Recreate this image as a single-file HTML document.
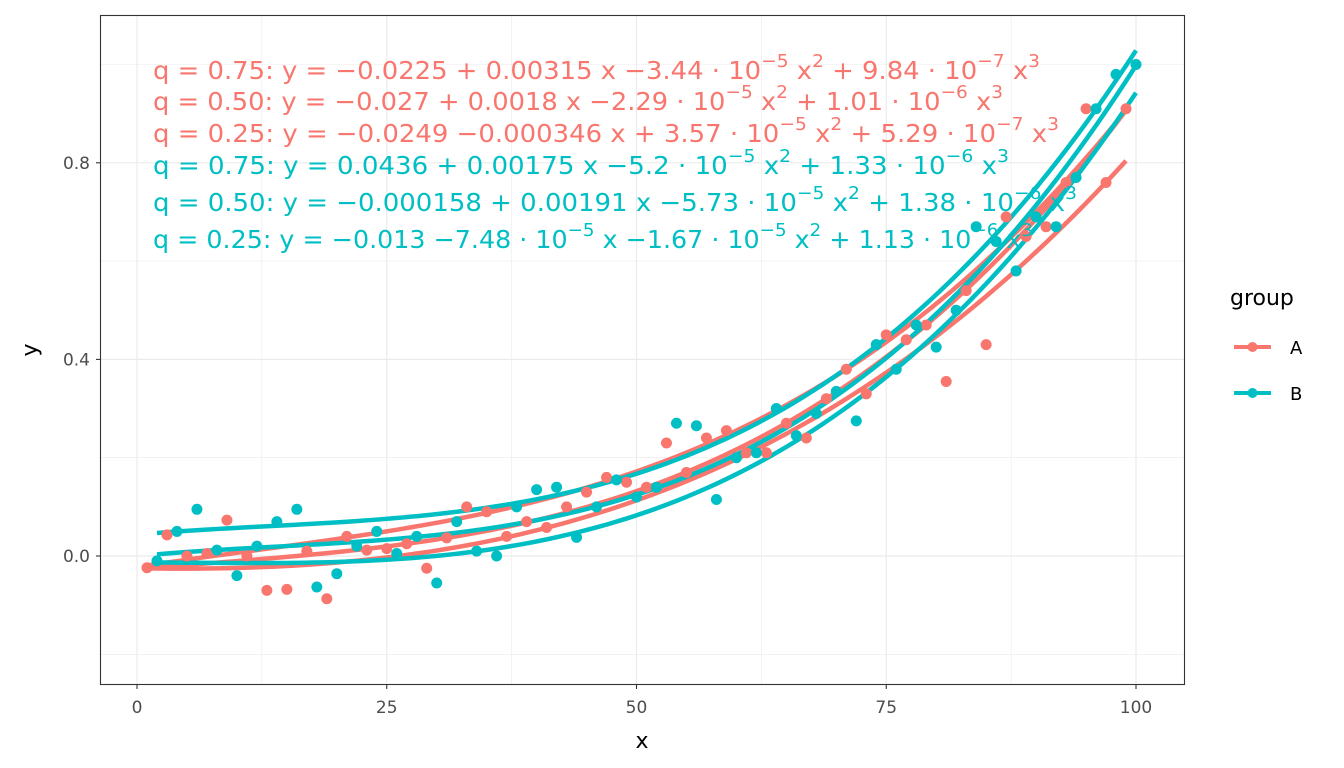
<!DOCTYPE html>
<html><head><meta charset="utf-8"><style>
html,body{margin:0;padding:0;background:#fff;}
svg{display:block;font-family:"DejaVu Sans","Liberation Sans",sans-serif;}
</style></head><body>
<svg id="chart" width="1344" height="768" viewBox="0 0 1344 768" xmlns="http://www.w3.org/2000/svg">
<rect x="0" y="0" width="1344" height="768" fill="#fff"/>
<g id="grid"></g>
<g id="curves"></g>
<g id="points"></g>
<g id="eqs"></g>
<rect x="100.5" y="15.5" width="1084" height="669" fill="none" stroke="#333" stroke-width="1.1"/>
<g id="axes"></g>
<text x="642" y="748" font-size="22" text-anchor="middle" fill="#000">x</text>
<text transform="translate(37,350) rotate(-90)" font-size="22" text-anchor="middle" fill="#000">y</text>
<g>
<text x="1230" y="305" font-size="22" fill="#000">group</text>
<g>
<line x1="1234" y1="347" x2="1271" y2="347" stroke="#F8766D" stroke-width="4"/>
<circle cx="1252.5" cy="347" r="5" fill="#F8766D"/>
<text x="1290" y="354" font-size="18" fill="#000">A</text></g>
<g>
<line x1="1234" y1="393" x2="1271" y2="393" stroke="#00BFC4" stroke-width="4"/>
<circle cx="1252.5" cy="393" r="5" fill="#00BFC4"/>
<text x="1290" y="400" font-size="18" fill="#000">B</text></g>
</g>
</svg>
<script>
const xA=[1,3,5,7,9,11,13,15,17,19,21,23,25,27,29,31,33,35,37,39,41,43,45,47,49,51,53,55,57,59,61,63,65,67,69,71,73,75,77,79,81,83,85,87,89,91,93,95,97,99];
const yA=[-0.024,0.043,0.0,0.005,0.073,0.0,-0.07,-0.068,0.01,-0.087,0.04,0.012,0.015,0.025,-0.025,0.037,0.10,0.09,0.04,0.07,0.058,0.10,0.13,0.16,0.15,0.14,0.23,0.17,0.24,0.255,0.21,0.21,0.27,0.24,0.32,0.38,0.33,0.45,0.44,0.47,0.355,0.54,0.43,0.69,0.65,0.67,0.76,0.91,0.76,0.91];
const xB=[2,4,6,8,10,12,14,16,18,20,22,24,26,28,30,32,34,36,38,40,42,44,46,48,50,52,54,56,58,60,62,64,66,68,70,72,74,76,78,80,82,84,86,88,90,92,94,96,98,100];
const yB=[-0.01,0.05,0.095,0.012,-0.04,0.02,0.07,0.095,-0.063,-0.036,0.02,0.05,0.005,0.04,-0.055,0.07,0.01,0.0,0.1,0.135,0.14,0.038,0.1,0.155,0.12,0.14,0.27,0.265,0.115,0.2,0.21,0.3,0.245,0.29,0.335,0.275,0.43,0.38,0.47,0.425,0.5,0.67,0.64,0.58,0.69,0.67,0.77,0.91,0.98,1.0];
const coefA75=[-0.0225,0.00315,-3.44e-5,9.84e-7];
const coefA50=[-0.027,0.0018,-2.29e-5,1.01e-6];
const coefA25=[-0.0249,-0.000346,3.57e-5,5.29e-7];
const coefB75=[0.0436,0.00175,-5.2e-5,1.33e-6];
const coefB50=[-0.000158,0.00191,-5.73e-5,1.38e-6];
const coefB25=[-0.013,-7.48e-5,-1.67e-5,1.13e-6];
const xTicks=[0,25,50,75,100];
const yTicks=[0.0,0.4,0.8];
const xMinor=[12.5,37.5,62.5,87.5];
const yMinor=[-0.2,0.2,0.6,1.0];
const NS="http://www.w3.org/2000/svg";
function sx(v){return 137+v*9.99;}
function sy(v){return 556-v*491.5;}
function mk(tag,attrs,parent){const e=document.createElementNS(NS,tag);for(const k in attrs)e.setAttribute(k,attrs[k]);parent.appendChild(e);return e;}
const grid=document.getElementById('grid');
xMinor.forEach(v=>{const l=mk('line',{x1:sx(v),x2:sx(v),y1:15,y2:685,stroke:'#ebebeb','stroke-width':0.6},grid);

});
yMinor.forEach(v=>{const l=mk('line',{x1:100,x2:1185,y1:sy(v),y2:sy(v),stroke:'#ebebeb','stroke-width':0.6},grid);

});
xTicks.forEach(v=>{const l=mk('line',{x1:sx(v),x2:sx(v),y1:15,y2:685,stroke:'#ebebeb','stroke-width':1.2},grid);

});
yTicks.forEach(v=>{const l=mk('line',{x1:100,x2:1185,y1:sy(v),y2:sy(v),stroke:'#ebebeb','stroke-width':1.2},grid);

});
const axes=document.getElementById('axes');
xTicks.forEach(v=>{mk('line',{x1:sx(v),x2:sx(v),y1:685,y2:689,stroke:'#333','stroke-width':1.1},axes);
const t=mk('text',{x:sx(v),y:713,'font-size':17,'text-anchor':'middle',fill:'#4d4d4d'},axes);t.textContent=String(v);

});
yTicks.forEach(v=>{mk('line',{x1:96,x2:100,y1:sy(v),y2:sy(v),stroke:'#333','stroke-width':1.1},axes);
const t=mk('text',{x:90,y:sy(v)+6,'font-size':17,'text-anchor':'end',fill:'#4d4d4d'},axes);t.textContent=v.toFixed(1);

});
const curves=document.getElementById('curves');
function poly(c,x){return c[0]+c[1]*x+c[2]*x*x+c[3]*x*x*x;}
function drawCurve(c,x0,x1,color,name){let d='';for(let i=0;i<=100;i++){const x=x0+(x1-x0)*i/100;d+=(i?'L':'M')+sx(x).toFixed(2)+','+sy(poly(c,x)).toFixed(2);}
const p=mk('path',{d:d,fill:'none',stroke:color,'stroke-width':4.5},curves);

}
drawCurve(coefA75,1,99,'#F8766D','curve-a-q75');
drawCurve(coefA50,1,99,'#F8766D','curve-a-q50');
drawCurve(coefA25,1,99,'#F8766D','curve-a-q25');
drawCurve(coefB75,2,100,'#00BFC4','curve-b-q75');
drawCurve(coefB50,2,100,'#00BFC4','curve-b-q50');
drawCurve(coefB25,2,100,'#00BFC4','curve-b-q25');
const pts=document.getElementById('points');
xA.forEach((x,i)=>{const c=mk('circle',{cx:sx(x),cy:sy(yA[i]),r:5.5,fill:'#F8766D'},pts);

});
xB.forEach((x,i)=>{const c=mk('circle',{cx:sx(x),cy:sy(yB[i]),r:5.5,fill:'#00BFC4'},pts);

});
</script>
<script>
(function(){
const NS="http://www.w3.org/2000/svg";
const eqs=document.getElementById('eqs');
const lines=[
['#F8766D',79,887,[['t','q = 0.75: y = −0.0225 + 0.00315 x −3.44 · 10'],['s','−5'],['t',' x'],['s','2'],['t',' + 9.84 · 10'],['s','−7'],['t',' x'],['s','3']]],
['#F8766D',110,850,[['t','q = 0.50: y = −0.027 + 0.0018 x −2.29 · 10'],['s','−5'],['t',' x'],['s','2'],['t',' + 1.01 · 10'],['s','−6'],['t',' x'],['s','3']]],
['#F8766D',142,906,[['t','q = 0.25: y = −0.0249 −0.000346 x + 3.57 · 10'],['s','−5'],['t',' x'],['s','2'],['t',' + 5.29 · 10'],['s','−7'],['t',' x'],['s','3']]],
['#00BFC4',174,856,[['t','q = 0.75: y = 0.0436 + 0.00175 x −5.2 · 10'],['s','−5'],['t',' x'],['s','2'],['t',' + 1.33 · 10'],['s','−6'],['t',' x'],['s','3']]],
['#00BFC4',211,924,[['t','q = 0.50: y = −0.000158 + 0.00191 x −5.73 · 10'],['s','−5'],['t',' x'],['s','2'],['t',' + 1.38 · 10'],['s','−6'],['t',' x'],['s','3']]],
['#00BFC4',248,880,[['t','q = 0.25: y = −0.013 −7.48 · 10'],['s','−5'],['t',' x −1.67 · 10'],['s','−5'],['t',' x'],['s','2'],['t',' + 1.13 · 10'],['s','−6'],['t',' x'],['s','3']]]
];
lines.forEach((L,i)=>{
const t=document.createElementNS(NS,'text');
t.setAttribute('x',153);t.setAttribute('y',L[1]);t.setAttribute('font-size',25);t.setAttribute('fill',L[0]);
t.setAttribute('textLength',L[2]);t.setAttribute('lengthAdjust','spacingAndGlyphs');


L[3].forEach(s=>{const sp=document.createElementNS(NS,'tspan');
if(s[0]==='s'){sp.setAttribute('y',L[1]-12);sp.setAttribute('font-size',18);}
else{sp.setAttribute('y',L[1]);}
sp.textContent=s[1];t.appendChild(sp);
});
eqs.appendChild(t);
});
})();
</script>
</body></html>
